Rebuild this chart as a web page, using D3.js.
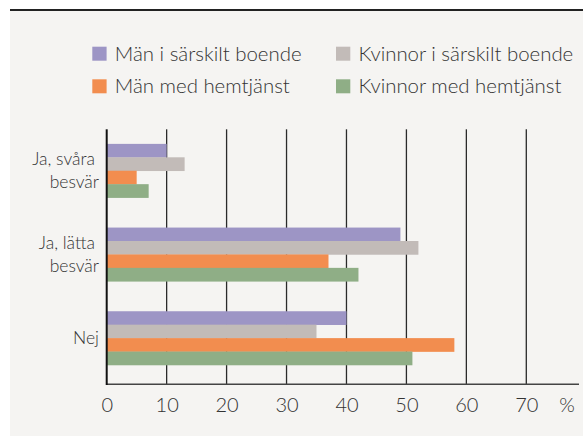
<!DOCTYPE html>
<html>
<head>
<meta charset="utf-8">
<script src="https://cdn.jsdelivr.net/npm/d3@7"></script>
<style>
  body { margin: 0; background: #fff; }
  svg { display: block; }
  text { font-family: Lato, "Open Sans", sans-serif; fill: #333; }
</style>
</head>
<body>
<div id="chart"></div>
<script>
var categories = ["Ja, svåra|besvär", "Ja, lätta|besvär", "Nej"];
var seriesNames = ["Män i särskilt boende", "Kvinnor i särskilt boende", "Män med hemtjänst", "Kvinnor med hemtjänst"];
var menSpecial = [10, 49, 40];
var womenSpecial = [13, 52, 35];
var menHome = [5, 37, 58];
var womenHome = [7, 42, 51];
var tickValues = [0, 10, 20, 30, 40, 50, 60, 70];
var colors = ["#9d95c5", "#c2bbb8", "#f28d4f", "#8fae86"];

var w = 583,
	h = 436,
	plotLeft = 106.7,
	plotTop = 129.3,
	plotBottom = 384.3;

var seriesValues = [menSpecial, womenSpecial, menHome, womenHome];

var svg = d3.select("#chart")
	.append("svg")
	.attr("width", w)
	.attr("height", h);

// grey panel + top rule
svg.append("rect")
	.attr("x", 10).attr("y", 10)
	.attr("width", w - 10).attr("height", h - 10)
	.attr("fill", "#f5f4f2");
svg.append("line")
	.attr("x1", 10).attr("x2", w)
	.attr("y1", 10).attr("y2", 10)
	.attr("stroke", "#222").attr("stroke-width", 2);

var x = d3.scaleLinear().domain([0, 70]).range([plotLeft, 526.3]);

var y = d3.scaleBand()
	.domain(categories)
	.range([plotTop, plotBottom])
	.paddingInner(0.358)
	.paddingOuter(0.2025)
	.align(0.43);

var ySub = d3.scaleBand()
	.domain(d3.range(seriesNames.length))
	.range([0, y.bandwidth()]);

// grid lines
svg.append("g")
	.selectAll("line")
	.data(tickValues.slice(1))
	.enter()
	.append("line")
	.attr("x1", function(d) { return x(d); })
	.attr("x2", function(d) { return x(d); })
	.attr("y1", plotTop)
	.attr("y2", plotBottom)
	.attr("stroke", "#2a2a2a")
	.attr("stroke-width", 1.3);

// bars
var group = svg.selectAll(".grp")
	.data(categories)
	.enter()
	.append("g")
	.attr("class", "grp")
	.attr("transform", function(d) { return "translate(0," + y(d) + ")"; });

group.selectAll("rect")
	.data(function(d, i) {
		return seriesValues.map(function(s, j) { return {s: j, v: s[i]}; });
	})
	.enter()
	.append("rect")
	.attr("x", x(0))
	.attr("y", function(d) { return ySub(d.s); })
	.attr("width", function(d) { return x(d.v) - x(0); })
	.attr("height", ySub.bandwidth() + 0.3)
	.attr("fill", function(d) { return colors[d.s]; });

// axes
svg.append("line")
	.attr("x1", plotLeft).attr("x2", 579)
	.attr("y1", plotBottom).attr("y2", plotBottom)
	.attr("stroke", "#444").attr("stroke-width", 1.5);
svg.append("line")
	.attr("x1", plotLeft).attr("x2", plotLeft)
	.attr("y1", plotTop).attr("y2", plotBottom + 0.7)
	.attr("stroke", "#111").attr("stroke-width", 2);

var xAxis = d3.axisBottom(x).tickValues(tickValues).tickSize(0).tickPadding(0);
var gx = svg.append("g")
	.attr("transform", "translate(0," + plotBottom + ")")
	.call(xAxis);
gx.select(".domain").remove();
gx.selectAll("text")
	.attr("dy", null)
	.attr("y", 27.4)
	.attr("font-size", 20)
	.attr("font-family", null)
	.style("font-weight", 300)
	.attr("fill", null);

svg.append("text")
	.attr("x", 567).attr("y", plotBottom + 27.4)
	.attr("text-anchor", "middle")
	.attr("font-size", 20)
	.style("font-weight", 300)
	.text("%");

// category labels
svg.selectAll(".cat")
	.data(categories)
	.enter()
	.append("text")
	.attr("class", "cat")
	.attr("text-anchor", "end")
	.attr("font-size", 17.5)
	.style("font-weight", 300)
	.each(function(d) {
		var lines = d.split("|");
		var cy = y(d) + y.bandwidth() / 2;
		var t = d3.select(this);
		lines.forEach(function(l, k) {
			t.append("tspan")
				.attr("x", lines.length > 1 && k == 0 ? 95 : 99)
				.attr("y", cy + 6 + (k - (lines.length - 1) / 2) * 23.5)
				.text(l);
		});
	});

// legend
var legendPos = [[92.3, 46.7], [336, 46.7], [92.3, 79.3], [336, 79.3]];
var legend = svg.selectAll(".leg")
	.data(seriesNames)
	.enter()
	.append("g")
	.attr("class", "leg")
	.attr("transform", function(d, i) {
		return "translate(" + legendPos[i][0] + "," + legendPos[i][1] + ")";
	});
legend.append("rect")
	.attr("width", 14.3).attr("height", 14)
	.attr("fill", function(d, i) { return colors[i]; });
legend.append("text")
	.attr("x", 22.5).attr("y", 14)
	.attr("font-size", 20.4)
	.style("font-weight", 300)
	.text(function(d) { return d; });
</script>
</body>
</html>
